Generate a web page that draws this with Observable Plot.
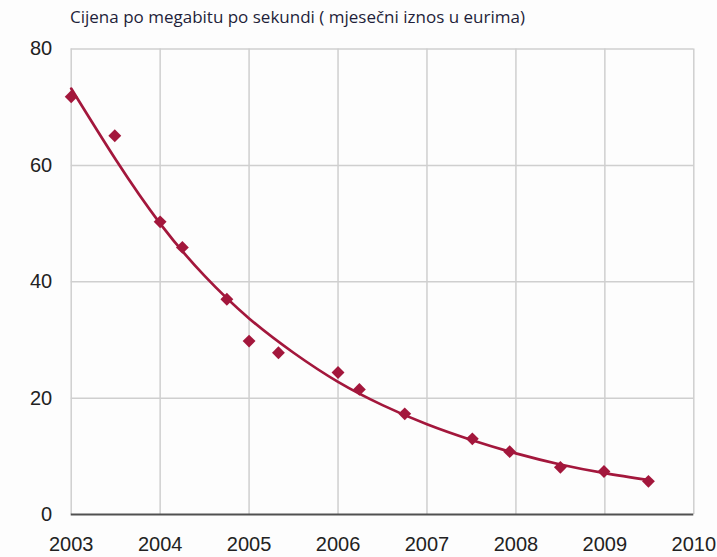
<!DOCTYPE html>
<html>
<head>
<meta charset="utf-8">
<script src="https://cdn.jsdelivr.net/npm/d3@7"></script>
<script src="https://cdn.jsdelivr.net/npm/@observablehq/plot@0.6"></script>
<style>
  html, body { margin: 0; padding: 0; background: #fdfdfd; }
  #title { height: 30px; position: relative; }
  #title span { position: absolute; left: 70px; top: 5px; font-family: "Open Sans", sans-serif; font-size: 17px; color: #1f1f3a; white-space: nowrap; }
</style>
</head>
<body>
<div id="title"><span>Cijena po megabitu po sekundi ( mjesečni iznos u eurima)</span></div>
<div id="chart"></div>
<script>
// Observed prices (year as decimal, EUR per Mbps monthly)
const pointYears = [2003.0, 2003.49, 2004.0, 2004.25, 2004.75, 2005.0, 2005.33, 2006.0, 2006.24, 2006.75, 2007.51, 2007.93, 2008.5, 2008.99, 2009.49];
const pointValues = [71.8, 65.1, 50.3, 45.9, 37.0, 29.8, 27.8, 24.4, 21.5, 17.3, 13.0, 10.8, 8.1, 7.4, 5.7];

// Trend line
const trendYears = [2003, 2003.5, 2004, 2004.5, 2005, 2005.5, 2006, 2006.5, 2007, 2007.5, 2008, 2008.5, 2009, 2009.5];
const trendValues = [73.2, 61.0, 50.0, 41.0, 33.7, 27.8, 22.8, 18.8, 15.5, 12.8, 10.5, 8.6, 7.1, 5.9];

const xTicks = [2003, 2004, 2005, 2006, 2007, 2008, 2009, 2010];
const yTicks = [0, 20, 40, 60, 80];

const points = pointYears.map((x, i) => ({x, y: pointValues[i]}));
const trend = trendYears.map((x, i) => ({x, y: trendValues[i]}));

const red = "#a3173c";

const chart = Plot.plot({
  width: 717,
  height: 527,
  marginTop: 18.5,
  marginBottom: 43,
  marginLeft: 70.7,
  marginRight: 23.7,
  style: { background: "transparent", fontFamily: "Liberation Sans, Arial, sans-serif", fontSize: "20px", color: "#222" },
  x: { domain: [2003, 2010], ticks: xTicks, tickFormat: d => String(d), tickSize: 0, tickPadding: 22, label: null },
  y: { domain: [0, 80], ticks: yTicks, tickSize: 0, tickPadding: 19, label: null },
  marks: [
    Plot.ruleX(xTicks, { stroke: "#cfcfcf", strokeWidth: 1.5 }),
    Plot.ruleY(yTicks.filter(d => d > 0), { stroke: "#cfcfcf", strokeWidth: 1.5 }),
    Plot.ruleY([0], { stroke: "#505050", strokeWidth: 2 }),
    Plot.line(trend, { x: "x", y: "y", curve: "natural", stroke: red, strokeWidth: 2.7 }),
    Plot.dot(points, { x: "x", y: "y", symbol: "diamond2", r: 5.8, fill: red, stroke: "none" })
  ]
});
document.getElementById("chart").appendChild(chart);
</script>
</body>
</html>
